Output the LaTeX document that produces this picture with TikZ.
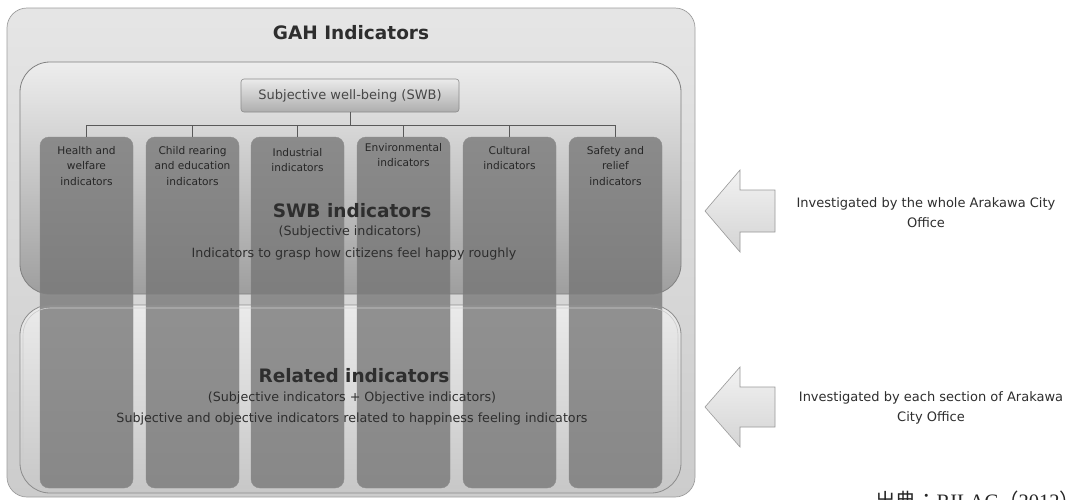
\documentclass[tikz,border=0pt]{standalone}
\usepackage{fontspec}
\usetikzlibrary{calc}
\setmainfont{DejaVu Sans}
\newfontfamily\cjkfont{Noto Sans CJK JP}
\newfontfamily\srcserif{Liberation Serif}
\begin{document}
\begin{tikzpicture}[x=1pt,y=-1pt,
  colbox/.style={rounded corners=9pt, fill=black!55, fill opacity=0.75, draw=black!45, line width=0.4pt},
  coltext/.style={font=\fontsize{10.6}{15.5}\selectfont, text=black!85, align=center, anchor=north, inner sep=0pt},
  bigtitle/.style={font=\bfseries\fontsize{18.5}{20}\selectfont, text=black!82},
  subtext/.style={font=\fontsize{12.7}{14}\selectfont, text=black!82},
  tree/.style={draw=black!65, line width=0.7pt},
  blockarrow/.style={top color=black!5, bottom color=black!17, draw=black!40, line width=0.6pt},
  sidetext/.style={font=\fontsize{13}{20}\selectfont, text=black!82, align=center}]
\useasboundingbox (0,0) rectangle (1073,499);
\fill[white] (0,0) rectangle (1073,499);
% outer box
\shade[rounded corners=20pt, top color=black!10, bottom color=black!20] (7,8) rectangle (695,497);
\draw[rounded corners=20pt, draw=black!38, line width=0.7pt] (7,8) rectangle (695,497);
\node[bigtitle] (gah) at (351,33) {GAH Indicators};
% SWB and related boxes (fills)
\shade[rounded corners=30pt, top color=black!7, bottom color=black!38] (20,62) rectangle (681,294);
\shade[rounded corners=30pt, top color=black!8, bottom color=black!22] (20,305) rectangle (681,493);
% columns
\foreach \x/\n in {40/c1,146/c2,251/c3,357/c4,463/c5,569/c6}{
  \draw[colbox] (\x,137) rectangle ++(93,351);
  \coordinate (\n) at ($(\x,137)+(46.5,0)$);
}
% box borders over columns
\draw[rounded corners=30pt, draw=black!50, line width=0.8pt] (20,62) rectangle (681,294);
\draw[rounded corners=30pt, draw=black!45, line width=0.8pt] (20,305) rectangle (681,493);
\draw[rounded corners=27pt, draw=white!80!black, line width=0.6pt] (23,308) rectangle (678,490);
% SWB pill
\node[rounded corners=3pt, top color=black!8, bottom color=black!32, draw=black!45, line width=0.6pt,
  minimum width=218pt, minimum height=33pt, font=\fontsize{13}{14}\selectfont, text=black!72] (swb) at (350,95.5) {Subjective well-being (SWB)};
% tree
\coordinate (hub) at (350,125);
\draw[tree] (swb.south) -- (hub);
\draw[tree] (c1 |- hub) -- (c6 |- hub);
\foreach \n in {c1,c2,c3,c4,c5,c6}{ \draw[tree] (\n |- hub) -- (\n); }
% column texts
\node[coltext] (t1) at ($(c1)+(0,9)$) {Health and\\welfare\\indicators};
\node[coltext] (t2) at ($(c2)+(0,9)$) {Child rearing\\and education\\indicators};
\node[coltext] (t3) at ($(c3)+(0,11)$) {Industrial\\indicators};
\node[coltext] (t4) at ($(c4)+(0,6)$) {Environmental\\indicators};
\node[coltext] (t5) at ($(c5)+(0,9)$) {Cultural\\indicators};
\node[coltext] (t6) at ($(c6)+(0,9)$) {Safety and\\relief\\indicators};
% SWB texts
\node[bigtitle] (swbt) at (352,211) {SWB indicators};
\node[subtext] (swbs) at (350,232) {(Subjective indicators)};
\node[subtext] (swbd) at (354,254) {Indicators to grasp how citizens feel happy roughly};
% related texts
\node[bigtitle] (relt) at (354,376) {Related indicators};
\node[subtext] (rels) at (352,398) {(Subjective indicators + Objective indicators)};
\node[subtext] (reld) at (352,419) {Subjective and objective indicators related to happiness feeling indicators};
% block arrows
\path[blockarrow] (705,211) -- (740,170) -- (740,190) -- (775,190) -- (775,232) -- (740,232) -- (740,252) -- cycle;
\path[blockarrow] (705,407) -- (740,367) -- (740,387) -- (775,387) -- (775,427) -- (740,427) -- (740,447) -- cycle;
\node[sidetext] (a1) at (926,213) {Investigated by the whole Arakawa City\\Office};
\node[sidetext] (a2) at (931,408) {Investigated by each section of Arakawa\\City Office};
% source
\node[anchor=base west, inner sep=0pt, font=\fontsize{20.5}{21}\selectfont, text=black!85] (src) at (875,508) {{\cjkfont 出典：}{\srcserif RILAC}{\cjkfont （}{\srcserif 2012}{\cjkfont ）}};
\end{tikzpicture}
\end{document}
